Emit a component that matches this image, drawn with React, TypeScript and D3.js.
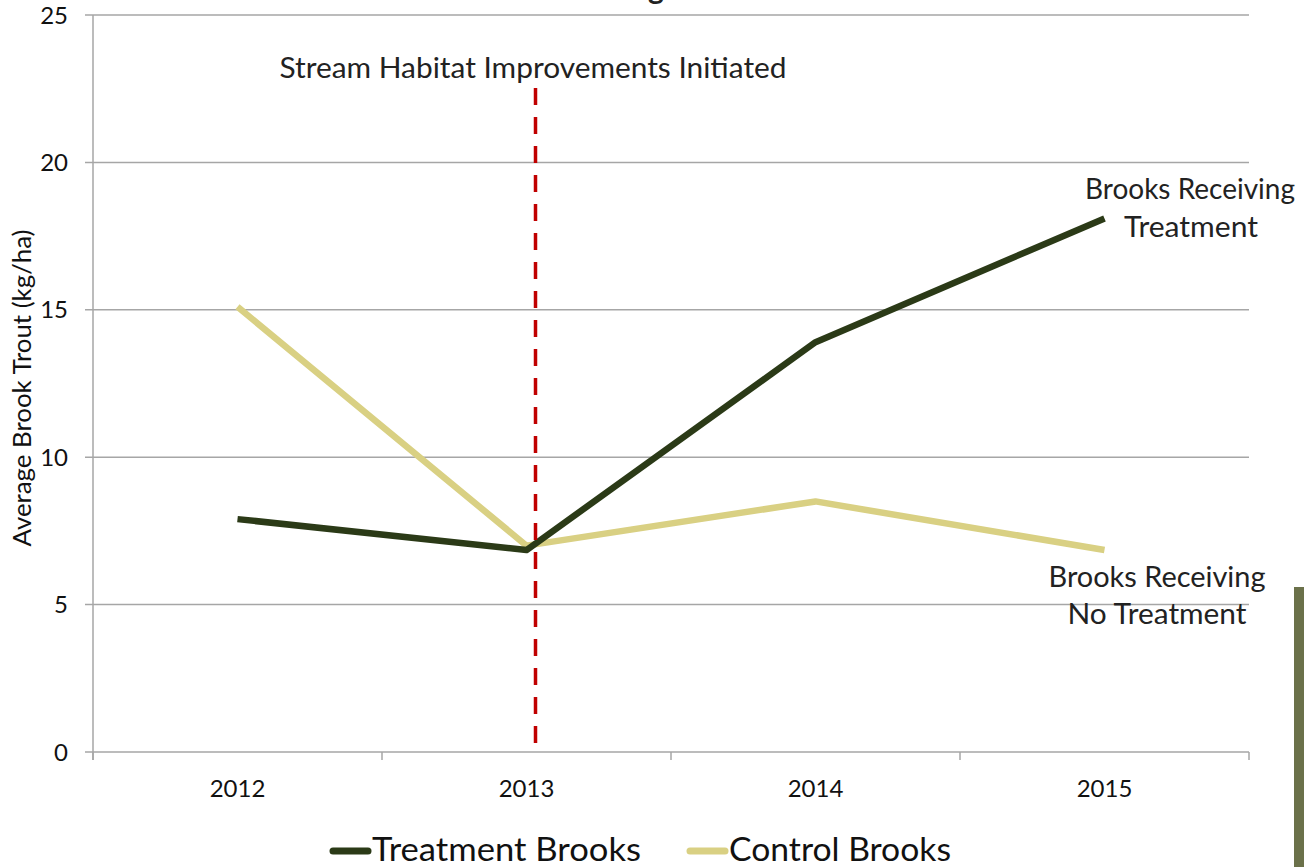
import React from "react";
import * as d3 from "d3";

const years = ["2012", "2013", "2014", "2015"];
const treatment = [7.9, 6.85, 13.9, 18.1];
const control = [15.1, 7.0, 8.5, 6.85];
const yTicks = [0, 5, 10, 15, 20, 25];

const W = 1304;
const H = 867;
const FONT = "Lato, 'Open Sans', sans-serif";

export default function App() {
  const left = 93, right = 1249, top = 15, bottom = 752;
  const x = d3.scaleBand<string>().domain(years).range([left, right]);
  const y = d3.scaleLinear().domain([0, 25]).range([bottom, top]);
  const cx = (d: string) => (x(d) as number) + x.bandwidth() / 2;
  const line = d3
    .line<number>()
    .x((_, i) => cx(years[i]))
    .y((v) => y(v));
  const bounds = [...years.map((d) => x(d) as number), right];
  const grid = "#a6a6a6";
  const markerX = cx("2013") + 9;
  const txt = "#222";

  return (
    <div style={{ position: "absolute", left: 0, top: 0 }}>
      <svg width={W} height={H} style={{ display: "block" }} fontFamily={FONT}>
        <rect width={W} height={H} fill="#fff" />
        <text x={656} y={-1} textAnchor="middle" fontSize={30} fontWeight="bold" fill="#222">g</text>
        {yTicks.map((t) => (
          <g key={t}>
            <line x1={left - 8} x2={right} y1={y(t)} y2={y(t)} stroke={grid} strokeWidth={1.5} />
            <text x={68} y={y(t)} dy="0.36em" textAnchor="end" fontSize={24} fill="#111">{t}</text>
          </g>
        ))}
        <line x1={left} x2={left} y1={top} y2={bottom + 8} stroke={grid} strokeWidth={1.5} />
        {bounds.map((b, i) => (
          <line key={i} x1={b} x2={b} y1={bottom} y2={bottom + 8} stroke={grid} strokeWidth={1.5} />
        ))}
        {years.map((d) => (
          <text key={d} x={cx(d)} y={797} textAnchor="middle" fontSize={24} fill="#111">{d}</text>
        ))}
        <text
          transform={`translate(31,${388}) rotate(-90)`}
          textAnchor="middle"
          fontSize={25}
          fill="#111"
          textLength={317}
          lengthAdjust="spacingAndGlyphs"
        >
          Average Brook Trout (kg/ha)
        </text>
        <path d={line(control) || ""} fill="none" stroke="#d9d083" strokeWidth={6.5} strokeLinejoin="round" />
        <path d={line(treatment) || ""} fill="none" stroke="#2b3a17" strokeWidth={6.5} strokeLinejoin="round" />
        <line
          x1={markerX}
          x2={markerX}
          y1={88}
          y2={bottom + 3}
          stroke="#c00000"
          strokeWidth={3.5}
          strokeDasharray="17 12"
        />
        <text x={533} y={78} textAnchor="middle" fontSize={29} fill={txt} textLength={507} lengthAdjust="spacingAndGlyphs">
          Stream Habitat Improvements Initiated
        </text>
        <text x={1190} y={199} textAnchor="middle" fontSize={29} fill={txt} textLength={210} lengthAdjust="spacingAndGlyphs">Brooks Receiving</text>
        <text x={1191} y={237} textAnchor="middle" fontSize={29} fill={txt} textLength={134} lengthAdjust="spacingAndGlyphs">Treatment</text>
        <text x={1157} y={587} textAnchor="middle" fontSize={29} fill={txt} textLength={217} lengthAdjust="spacingAndGlyphs">Brooks Receiving</text>
        <text x={1157} y={624} textAnchor="middle" fontSize={29} fill={txt} textLength={179} lengthAdjust="spacingAndGlyphs">No Treatment</text>
        <rect x={1294} y={587} width={10} height={H - 587} fill="#6b714a" />
        <line x1={333} x2={368} y1={851} y2={851} stroke="#2b3a17" strokeWidth={7} strokeLinecap="round" />
        <text x={372} y={861} fontSize={33} fill="#111" textLength={269} lengthAdjust="spacingAndGlyphs">Treatment Brooks</text>
        <line x1={690} x2={725} y1={851} y2={851} stroke="#d9d083" strokeWidth={7} strokeLinecap="round" />
        <text x={729} y={861} fontSize={33} fill="#111" textLength={222} lengthAdjust="spacingAndGlyphs">Control Brooks</text>
      </svg>
    </div>
  );
}
